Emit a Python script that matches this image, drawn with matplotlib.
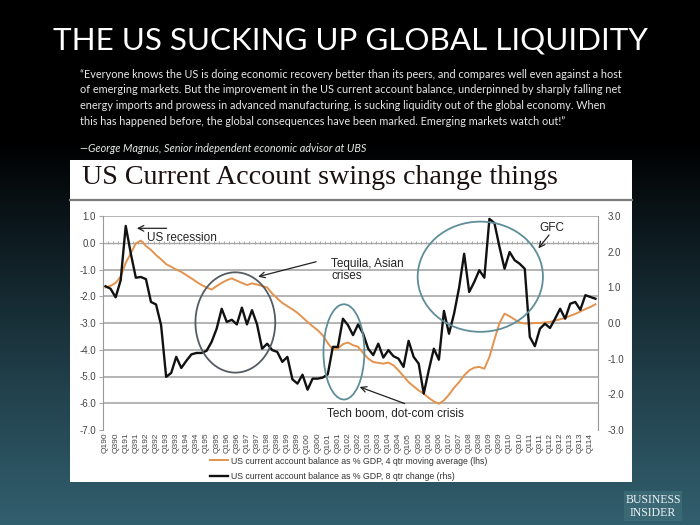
import numpy as np
import matplotlib
matplotlib.use("Agg")
import matplotlib.pyplot as plt
from matplotlib.patches import Rectangle, Ellipse
from matplotlib.lines import Line2D
from matplotlib.colors import LinearSegmentedColormap

# ---------------- data ----------------
years = list(range(1990, 2014))
tick_labels = []
for y in years:
    tick_labels += [f"Q1{y % 100:02d}", f"Q3{y % 100:02d}"]
tick_labels.append("Q114")

# US current account balance as % GDP, 4 qtr moving average (lhs)
ca_ma4 = [-1.67, -1.61, -1.50, -1.27, -0.75, -0.40, -0.02, 0.08, -0.12, -0.27,
          -0.46, -0.62, -0.80, -0.90, -1.00, -1.09, -1.21, -1.33, -1.46, -1.58,
          -1.67, -1.75, -1.62, -1.50, -1.40, -1.33, -1.42, -1.50, -1.58, -1.52,
          -1.56, -1.62, -1.67, -1.90, -2.08, -2.25, -2.37, -2.49, -2.62, -2.79,
          -2.96, -3.12, -3.27, -3.46, -3.75, -3.99, -3.96, -3.79, -3.73, -3.83,
          -3.89, -4.12, -4.33, -4.46, -4.49, -4.52, -4.48, -4.58, -4.77, -4.99,
          -5.21, -5.37, -5.52, -5.64, -5.80, -5.93, -6.02, -5.89, -5.68, -5.42,
          -5.21, -4.96, -4.77, -4.67, -4.64, -4.71, -4.27, -3.62, -3.00, -2.65,
          -2.75, -2.87, -2.98, -3.02, -3.02, -3.00, -3.00, -2.98, -2.96, -2.91,
          -2.86, -2.81, -2.73, -2.66, -2.57, -2.48, -2.40, -2.30]

# US current account balance as % GDP, 8 qtr change (rhs)
ca_chg8 = [1.03, 0.96, 0.72, 1.20, 2.72, 1.95, 1.27, 1.29, 1.23, 0.59,
           0.52, -0.06, -1.51, -1.40, -0.95, -1.26, -1.06, -0.88, -0.84, -0.84,
           -0.78, -0.53, -0.16, 0.40, 0.03, 0.09, -0.04, 0.43, -0.04, 0.36,
           -0.04, -0.72, -0.58, -0.76, -0.81, -1.09, -0.95, -1.58, -1.70, -1.45,
           -1.87, -1.56, -1.56, -1.53, -1.44, -0.67, -0.67, 0.12, -0.06, -0.34,
           -0.04, -0.30, -0.72, -0.90, -0.58, -0.97, -0.76, -0.93, -1.00, -1.23,
           -0.50, -0.95, -1.14, -1.98, -1.32, -0.72, -1.03, 0.34, -0.30, 0.26,
           0.99, 1.94, 0.87, 1.15, 1.48, 1.27, 2.92, 2.80, 2.13, 1.52,
           1.99, 1.76, 1.66, 1.52, -0.39, -0.65, -0.16, -0.02, -0.14, 0.12,
           0.40, 0.12, 0.54, 0.59, 0.37, 0.78, 0.73, 0.68]

left_ticks = [1, 0, -1, -2, -3, -4, -5, -6, -7]
right_ticks = [3, 2, 1, 0, -1, -2, -3]

quote_lines = [
    "\u201cEveryone knows the US is doing economic recovery better than its peers, and compares well even against a host",
    "of emerging markets. But the improvement in the US current account balance, underpinned by sharply falling net",
    "energy imports and prowess in advanced manufacturing, is sucking liquidity out of the global economy. When",
    "this has happened before, the global consequences have been marked. Emerging markets watch out!\u201d",
]
attribution = "\u2014George Magnus, Senior independent economic advisor at UBS"

# ---------------- figure ----------------
W, H = 700, 525
fig = plt.figure(figsize=(W / 100, H / 100), dpi=100)

def fx(px):
    return px / W

def fy(py):
    return 1 - py / H

# background gradient
bg = fig.add_axes([0, 0, 1, 1], zorder=-10)
bg.axis("off")
cmap = LinearSegmentedColormap.from_list(
    "bg", [(0.0, "#000000"), (0.27, "#000000"), (0.45, "#0d1a1f"),
           (0.75, "#22424d"), (1.0, "#325f6e")])
grad = np.linspace(0, 1, 256).reshape(-1, 1)
bg.imshow(grad, aspect="auto", cmap=cmap, extent=[0, 1, 0, 1], origin="upper")
bg.set_xlim(0, 1)
bg.set_ylim(0, 1)

sans_slide = ["Lato", "DejaVu Sans"]

fig.text(0.5, fy(40), "THE US SUCKING UP GLOBAL LIQUIDITY", color="white",
         fontsize=22.6, ha="center", va="center", family=sans_slide)
for k, line in enumerate(quote_lines):
    fig.text(fx(80), fy(74 + k * 15.7), line, color="#e8e8e8", fontsize=7.85,
             ha="left", va="center", family=sans_slide)
fig.text(fx(80), fy(149), attribution, color="#e8e8e8", fontsize=7.85,
         ha="left", va="center", style="italic", family=sans_slide)

# white chart box
fig.patches.append(Rectangle((fx(70), fy(482)), fx(632) - fx(70), fy(160) - fy(482),
                             transform=fig.transFigure, facecolor="white",
                             edgecolor="none", zorder=-5))
fig.lines.append(Line2D([fx(70), fx(632)], [fy(200), fy(200)], transform=fig.transFigure,
                        color="#7a7a7a", lw=1.6, zorder=-4))
fig.text(fx(82), fy(177), "US Current Account swings change things", color="#1a1010",
         fontsize=20.2, ha="left", va="center", family=["Liberation Serif", "DejaVu Serif"])

# business insider logo
fig.patches.append(Rectangle((fx(624), fy(521)), fx(682) - fx(624), fy(491) - fy(521),
                             transform=fig.transFigure, facecolor="#3a6875",
                             edgecolor="none", zorder=-3))
fig.text(fx(653), fy(500), "BUSINESS", color="#eef3f4", fontsize=8.5, ha="center",
         va="center", family=["Liberation Serif", "DejaVu Serif"])
fig.text(fx(653), fy(513), "INSIDER", color="#eef3f4", fontsize=8.5, ha="center",
         va="center", family=["Liberation Serif", "DejaVu Serif"])

# ---------------- chart ----------------
ax = fig.add_axes([fx(103), fy(430), fx(598) - fx(103), fy(216) - fy(430)])
ax.patch.set_alpha(0)
x = np.arange(len(ca_ma4))
ax.set_xlim(-0.5, len(ca_ma4) - 0.5)
ax.set_ylim(-7, 1)

grid_c = "#a8a8a8"
for t in left_ticks:
    if t in (-7,):
        continue
    if t == 0:
        ax.axhline(0, color=grid_c, lw=1.0, zorder=1)
        ax.vlines(np.arange(-0.5, len(x)), -0.06, 0.06, color=grid_c, lw=0.7, zorder=1)
    else:
        ax.axhline(t, color=grid_c, lw=1.2, zorder=1)

l1, = ax.plot(x, ca_ma4, color="#e3934e", lw=1.4, zorder=3,
              label="US current account balance as % GDP, 4 qtr moving average (lhs)")

ax.set_yticks(left_ticks)
ax.set_yticklabels([f"{t:.1f}" for t in left_ticks])
ax.set_xticks(x[::2])
ax.set_xticklabels(tick_labels, rotation=90, fontsize=6, color="#444444",
                   family=["Liberation Sans", "DejaVu Sans"])
ax.tick_params(axis="x", length=0, pad=2)
ax.tick_params(axis="y", length=3, color=grid_c, labelsize=7, labelcolor="#444444", pad=2)
for lab in ax.get_yticklabels():
    lab.set_family(["Liberation Sans", "DejaVu Sans"])
for s in ("top", "bottom", "right"):
    ax.spines[s].set_visible(False)
ax.spines["left"].set_color("#999999")

ax2 = ax.twinx()
ax2.set_ylim(-3, 3)
l2, = ax2.plot(x, ca_chg8, color="#111111", lw=1.7, zorder=4,
               label="US current account balance as % GDP, 8 qtr change (rhs)")
ax2.set_yticks(right_ticks)
ax2.set_yticklabels([f"{t:.1f}" for t in right_ticks])
ax2.tick_params(axis="y", length=0, labelsize=7, labelcolor="#444444", pad=7)
for lab in ax2.get_yticklabels():
    lab.set_family(["Liberation Sans", "DejaVu Sans"])
for s in ("top", "bottom", "left"):
    ax2.spines[s].set_visible(False)
ax2.spines["right"].set_color("#999999")

# annotations (in lhs data coordinates)
T = ax.transData
ann_font = dict(fontsize=8.5, color="#222222", family=["Liberation Sans", "DejaVu Sans"])
arrow = dict(arrowstyle="->", color="#222222", lw=0.9, shrinkA=0, shrinkB=0)

ax2.add_patch(Ellipse((25.7, -2.98), 15.8, 3.75, transform=T, fill=False,
                      edgecolor="#555b62", lw=1.3, zorder=5))
ax2.add_patch(Ellipse((47.2, -4.08), 8.1, 3.56, transform=T, fill=False,
                      edgecolor="#5f8d98", lw=1.3, zorder=5))
ax2.add_patch(Ellipse((74.2, -1.27), 24.8, 4.12, transform=T, fill=False,
                      edgecolor="#5f8d98", lw=1.3, zorder=5))

ax2.text(8.2, 0.18, "US recession", transform=T, ha="left", va="center", **ann_font)
ax2.annotate("", xy=(6.2, 0.54), xytext=(12.1, 0.54), xycoords=T, textcoords=T,
             arrowprops=arrow)
ax2.text(44.7, -1.02, "Tequila, Asian\ncrises", transform=T, ha="left", va="center",
         linespacing=0.95, **ann_font)
ax2.annotate("", xy=(30.2, -1.27), xytext=(41.7, -0.71), xycoords=T, textcoords=T,
             arrowprops=arrow)
ax2.text(43.8, -6.38, "Tech boom, dot-com crisis", transform=T, ha="left", va="center",
         **ann_font)
ax2.annotate("", xy=(50.3, -5.39), xytext=(59.2, -6.01), xycoords=T, textcoords=T,
             arrowprops=arrow)
ax2.text(85.9, 0.55, "GFC", transform=T, ha="left", va="center", **ann_font)
ax2.annotate("", xy=(85.7, -0.21), xytext=(87.8, 0.29), xycoords=T, textcoords=T,
             arrowprops=arrow)

leg = fig.legend(handles=[l1, l2], loc="upper left",
                 bbox_to_anchor=(fx(210), fy(456.5)), frameon=False,
                 handlelength=2.1, handletextpad=0.35, labelspacing=0.71,
                 borderpad=0, borderaxespad=0,
                 prop={"family": ["Liberation Sans", "DejaVu Sans"], "size": 6.3})
for t in leg.get_texts():
    t.set_color("#333333")

fig.savefig("out.png", dpi=100)
